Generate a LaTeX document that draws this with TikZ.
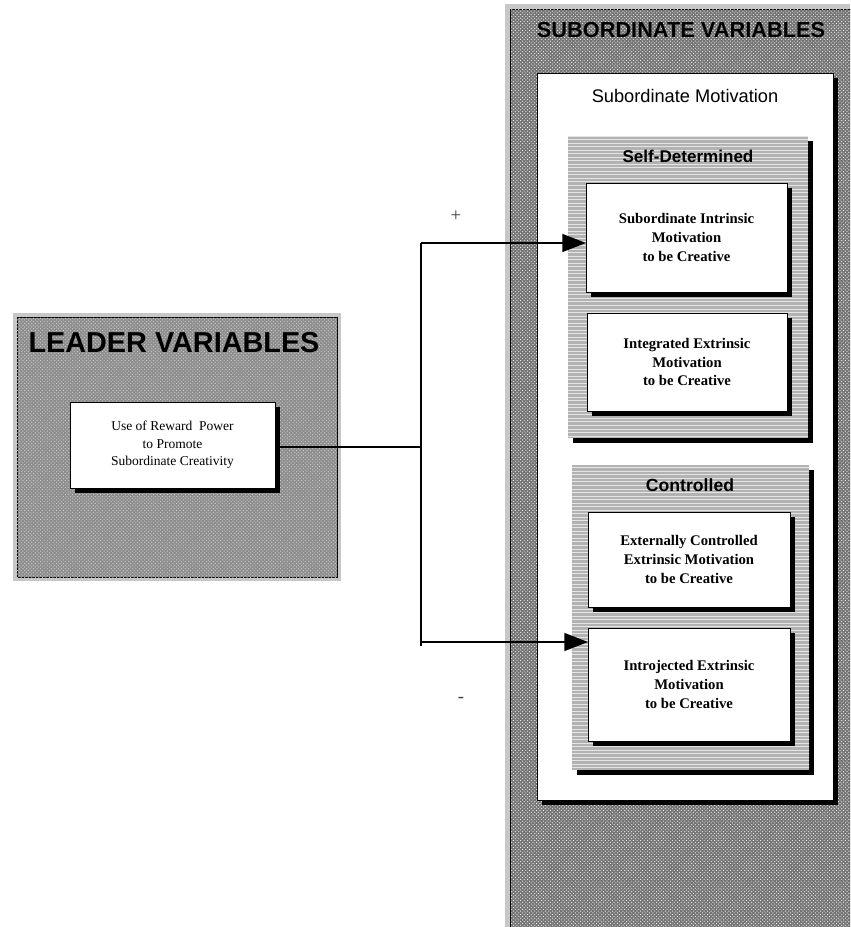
\documentclass[tikz,border=0pt]{standalone}
\usepackage{fontspec}
\setmainfont{Liberation Serif}
\setsansfont{Liberation Sans}
\usetikzlibrary{patterns,arrows.meta,shadows}

\tikzset{
  pxbox/.style 2 args={rectangle, inner sep=0pt, outer sep=0pt,
    minimum width=#1*0.85pt, minimum height=#2*0.85pt},
  rim/.style={fill=black!22},
  darkdots/.style={draw=black, line width=0.7pt, fill=black!55,
    postaction={pattern=crosshatch dots, pattern color=white}},
  checker/.style={draw=black, line width=0.7pt, fill=black!45,
    postaction={pattern=crosshatch dots, pattern color=white!85!black}},
  lightgrid/.style={fill=black!30,
    postaction={pattern=horizontal lines, pattern color=white!90!black},
    drop shadow={shadow xshift=4pt, shadow yshift=-4pt, fill=black, opacity=1}},
  whitebox/.style={draw=black, line width=0.8pt, fill=white,
    drop shadow={shadow xshift=4.5pt, shadow yshift=-4.5pt, fill=black, opacity=1}},
  boxtext/.style={align=center, font=\fontsize{12.5}{16}\bfseries\selectfont},
  link/.style={line width=1.2pt},
  arrowlink/.style={line width=1.8pt, -{Triangle[length=20pt, width=15pt]}},
  sign/.style={font=\fontsize{16}{18}\selectfont, text=black!75}
}

\begin{document}
\begin{tikzpicture}[x=0.85pt, y=-0.85pt]
  \clip (0,0) rectangle (850,927);

  % subordinate variables panel
  \node[pxbox={360}{940}, rim] (subvarrim) at (685,474) {};
  \node[pxbox={355}{935}, darkdots] (subvar) at (688,477) {};
  \node[font=\sffamily\bfseries\fontsize{18.5}{21}\selectfont] (subvartitle) at (681,30) {SUBORDINATE VARIABLES};

  % subordinate motivation
  \node[pxbox={296}{727}, whitebox] (submot) at (685,436.5) {};
  \node[font=\sffamily\fontsize{15.5}{18}\selectfont] (submottitle) at (685,96) {Subordinate Motivation};

  % self-determined group
  \node[pxbox={240}{302}, lightgrid] (selfdet) at (688,287) {};
  \node[font=\sffamily\bfseries\fontsize{14.5}{17}\selectfont] (selfdettitle) at (688,156) {Self-Determined};
  \node[pxbox={201}{109}, whitebox] (b1) at (686.5,237.5) {};
  \node[boxtext] (b1text) at (b1) {Subordinate Intrinsic\\Motivation\\to be Creative};
  \node[pxbox={200}{98}, whitebox] (b2) at (687,362) {};
  \node[boxtext] (b2text) at (b2) {Integrated Extrinsic\\Motivation\\to be Creative};

  % controlled group
  \node[pxbox={237}{305}, lightgrid] (ctrl) at (690.5,617.5) {};
  \node[font=\sffamily\bfseries\fontsize{15}{18}\selectfont] (ctrltitle) at (690,485) {Controlled};
  \node[pxbox={202}{95}, whitebox] (b3) at (689,559.5) {};
  \node[boxtext] (b3text) at (b3) {Externally Controlled\\Extrinsic Motivation\\to be Creative};
  \node[pxbox={202}{113}, whitebox] (b4) at (689,684.5) {};
  \node[boxtext] (b4text) at (b4) {Introjected Extrinsic\\Motivation\\to be Creative};

  % leader variables panel
  \node[pxbox={328}{268}, rim] (leaderrim) at (177,447) {};
  \node[pxbox={320}{260}, checker] (leader) at (177,447) {};
  \node[font=\sffamily\bfseries\fontsize{24.5}{27}\selectfont] (leadertitle) at (174,343) {LEADER VARIABLES};
  \node[pxbox={205}{86}, whitebox] (reward) at (172.5,445) {};
  \node[align=center, font=\fontsize{11.5}{15}\selectfont] (rewardtext) at (reward) {Use of Reward\ \ Power\\to Promote\\Subordinate Creativity};

  % connectors
  \coordinate (split) at (421,447);
  \coordinate (up) at (421,243);
  \coordinate (down) at (421,642);
  \coordinate (downend) at (421,646);
  \draw[link] (reward.east |- split) -- (split);
  \draw[link] (up) -- (downend);
  \draw[arrowlink] (up) -- (up -| b1.west);
  \draw[arrowlink] (down) -- (down -| b4.west);
  \node[sign] (plus) at (456,216) {+};
  \node[sign] (minus) at (461,700) {-};
\end{tikzpicture}
\end{document}
